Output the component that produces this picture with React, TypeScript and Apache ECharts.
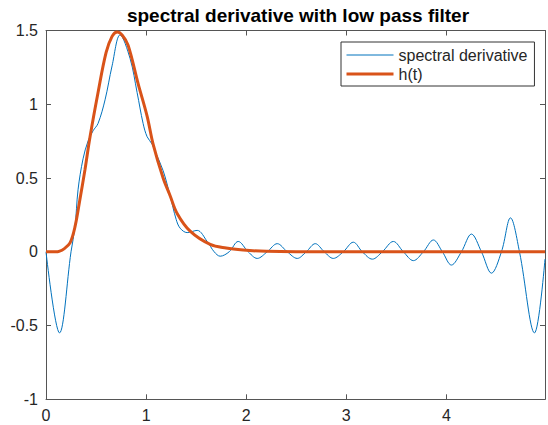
import React, { useEffect, useRef } from "react";
import * as echarts from "echarts";

const titleText = "spectral derivative with low pass filter";
const seriesNames = ["spectral derivative", "h(t)"];
const xTicks = [0, 1, 2, 3, 4];
const yTicks = [-1, -0.5, 0, 0.5, 1, 1.5];
const xMax = 4.985;

const spectralT = [0, 0.135, 0.25, 0.29, 0.32, 0.37, 0.42, 0.47, 0.52, 0.59, 0.66, 0.74, 0.84, 0.91, 0.97, 1.01, 1.06, 1.09, 1.17, 1.24, 1.3, 1.34, 1.41, 1.51, 1.61, 1.68, 1.74, 1.83, 1.92, 2.02, 2.11, 2.21, 2.31, 2.41, 2.51, 2.6, 2.69, 2.78, 2.87, 2.97, 3.07, 3.16, 3.26, 3.36, 3.47, 3.57, 3.67, 3.77, 3.87, 3.96, 4.05, 4.15, 4.25, 4.35, 4.45, 4.55, 4.64, 4.73, 4.88, 4.985];
const spectralV = [0, -0.55, 0, 0.17, 0.42, 0.63, 0.75, 0.82, 0.87, 1.03, 1.26, 1.47, 1.31, 1.08, 0.87, 0.78, 0.73, 0.68, 0.55, 0.38, 0.22, 0.16, 0.13, 0.145, 0.07, 0, -0.03, 0, 0.07, 0, -0.045, 0, 0.055, 0, -0.045, 0, 0.055, 0, -0.045, 0, 0.065, 0, -0.05, 0, 0.07, 0, -0.06, 0, 0.08, 0, -0.09, 0, 0.12, 0, -0.145, 0, 0.23, 0, -0.55, -0.05];

const hT = [0, 0.1, 0.13, 0.18, 0.24, 0.29, 0.34, 0.39, 0.44, 0.52, 0.6, 0.66, 0.71, 0.76, 0.82, 0.92, 1.01, 1.07, 1.17, 1.24, 1.31, 1.44, 1.64, 1.8, 1.97, 2.2, 2.5, 4.985];
const hV = [0, 0, 0.003, 0.02, 0.06, 0.17, 0.36, 0.56, 0.78, 1.08, 1.35, 1.46, 1.49, 1.47, 1.4, 1.14, 0.92, 0.73, 0.5, 0.38, 0.26, 0.14, 0.05, 0.025, 0.012, 0.003, 0, 0];

const FONT = "'Liberation Sans', Arial, Helvetica, sans-serif";
const AXIS_COLOR = "#555555";
const TEXT_COLOR = "#262626";
const BLUE = "#0072BD";
const ORANGE = "#D95319";

export default function App() {
  const ref = useRef<HTMLDivElement>(null);
  useEffect(() => {
    if (!ref.current) return;
    const chart = echarts.init(ref.current, undefined, { renderer: "svg" });
    const spectral = spectralT.map((t, i) => [t, spectralV[i]]);
    const h = hT.map((t, i) => [t, hV[i]]);
    const axisLine = { show: true, onZero: false, lineStyle: { color: AXIS_COLOR, width: 1 } };
    const axisTick = { show: true, inside: true, length: 5, lineStyle: { color: AXIS_COLOR, width: 1 } };
    chart.setOption({
      animation: false,
      backgroundColor: "#ffffff",
      title: {
        text: titleText,
        left: 298,
        textAlign: "center",
        top: 6,
        padding: 0,
        textStyle: { fontFamily: FONT, fontSize: 19, fontWeight: "bold", color: "#000" },
      },
      legend: {
        orient: "vertical",
        left: 341,
        top: 42,
        backgroundColor: "#fff",
        borderColor: "#333",
        borderWidth: 1,
        borderRadius: 0,
        padding: [4.5, 7, 3.5, 4],
        itemGap: 2,
        itemWidth: 47,
        itemHeight: 14,
        itemTextGap: 3,
        itemStyle: { color: "rgba(0,0,0,0)", borderWidth: 0, borderColor: "rgba(0,0,0,0)" },
        textStyle: { fontFamily: FONT, fontSize: 16, lineHeight: 17, color: TEXT_COLOR },
        data: [
          { name: seriesNames[0], lineStyle: { color: BLUE, width: 1 } },
          { name: seriesNames[1], lineStyle: { color: ORANGE, width: 3 } },
        ],
      },
      grid: { left: 46, right: 3, top: 30.5, bottom: 25.7, containLabel: false },
      xAxis: [
        {
          type: "value",
          min: 0,
          max: xMax,
          interval: 1,
          axisLine,
          axisTick,
          splitLine: { show: false },
          axisLabel: {
            show: true,
            showMaxLabel: false,
            margin: 8,
            fontFamily: FONT,
            fontSize: 16,
            color: TEXT_COLOR,
            formatter: (v: number) => (xTicks.includes(v) ? String(v) : ""),
          },
        },
        {
          type: "value",
          position: "top",
          min: 0,
          max: xMax,
          interval: 1,
          axisLine,
          axisTick,
          splitLine: { show: false },
          axisLabel: { show: false },
        },
      ],
      yAxis: [
        {
          type: "value",
          min: -1,
          max: 1.5,
          interval: 0.5,
          axisLine,
          axisTick,
          splitLine: { show: false },
          axisLabel: {
            margin: 8,
            fontFamily: FONT,
            fontSize: 16,
            color: TEXT_COLOR,
            formatter: (v: number) => (yTicks.includes(v) ? String(v) : ""),
          },
        },
        {
          type: "value",
          position: "right",
          min: -1,
          max: 1.5,
          interval: 0.5,
          axisLine,
          axisTick,
          splitLine: { show: false },
          axisLabel: { show: false },
        },
      ],
      series: [
        {
          name: seriesNames[0],
          type: "line",
          data: spectral,
          smooth: 0.35,
          symbol: "none",
          lineStyle: { color: BLUE, width: 1 },
          itemStyle: { color: BLUE },
          z: 2,
        },
        {
          name: seriesNames[1],
          type: "line",
          data: h,
          smooth: 0.35,
          symbol: "none",
          lineStyle: { color: ORANGE, width: 3 },
          itemStyle: { color: ORANGE },
          z: 3,
        },
      ],
    });
    return () => chart.dispose();
  }, []);
  return (
    <div
      ref={ref}
      style={{ position: "absolute", left: 0, top: 0, width: 548, height: 425 }}
    />
  );
}
